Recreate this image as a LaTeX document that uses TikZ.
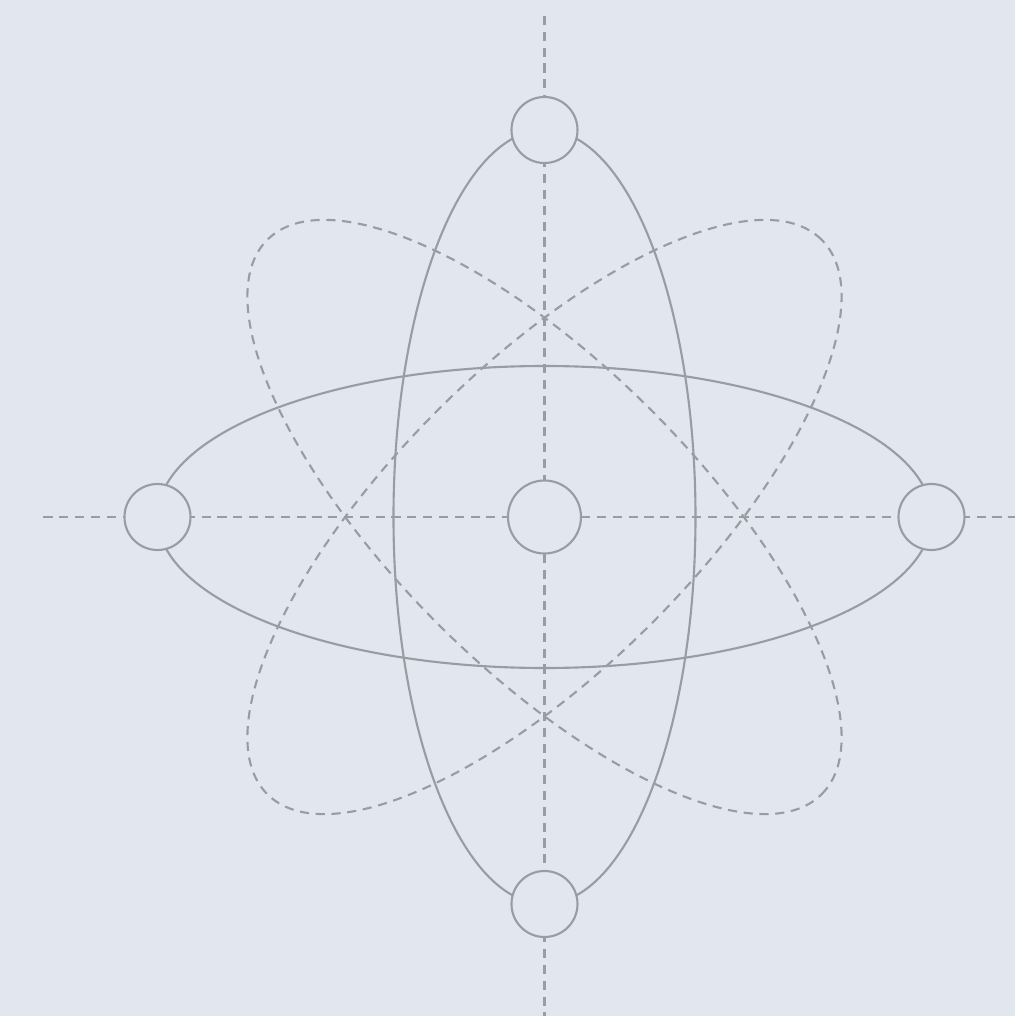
\documentclass[tikz,border=0pt]{standalone}
\usepackage{tikz}

\definecolor{atombg}{HTML}{E2E6EF}
\definecolor{atomline}{HTML}{9A9CA4}

\begin{document}
\begin{tikzpicture}[
    orbit/.style={draw=atomline, line width=1.2pt},
    dashorbit/.style={draw=atomline, line width=1.2pt, dash pattern=on 5.2pt off 3.8pt},
    axisline/.style={draw=atomline, line width=1.2pt, dash pattern=on 5.2pt off 3.8pt},
    electron/.style={circle, draw=atomline, fill=atombg, line width=1.2pt, minimum size=1.32cm, inner sep=0pt},
    nucleus/.style={electron, minimum size=1.46cm}
]

% Background
\fill[atombg] (-10.89,-9.98) rectangle (9.41,10.34);
\useasboundingbox (-10.89,-9.98) rectangle (9.41,10.34);

% Axes
\coordinate (west) at (-10.02,0);
\coordinate (east) at (9.41,0);
\coordinate (north) at (0,10.02);
\coordinate (south) at (0,-9.98);
\draw[axisline] (west) -- (east);
\draw[axisline] (north) -- (south);

% Orbits
\draw[dashorbit, rotate=45] (0,0) ellipse [x radius=7.84, y radius=3.02];
\draw[dashorbit, rotate=-45] (0,0) ellipse [x radius=7.84, y radius=3.02];
\draw[orbit] (0,0) ellipse [x radius=7.74, y radius=3.02];
\draw[orbit] (0,0) ellipse [x radius=3.02, y radius=7.74];

% Nodes
\node[nucleus] (core) at (0,0) {};
\node[electron] (top) at (0,7.74) {};
\node[electron] (bottom) at (0,-7.74) {};
\node[electron] (left) at (-7.74,0) {};
\node[electron] (right) at (7.74,0) {};

\end{tikzpicture}
\end{document}
